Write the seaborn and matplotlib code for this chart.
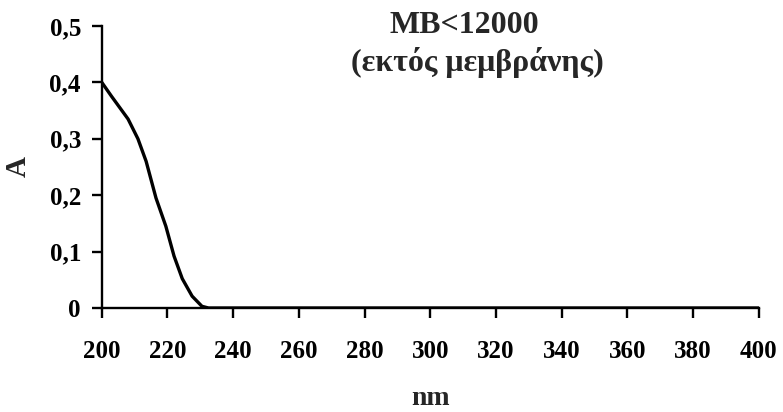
import matplotlib
matplotlib.use("Agg")
import matplotlib.pyplot as plt
from matplotlib.ticker import FuncFormatter
import seaborn as sns
import pandas as pd

# Absorbance spectrum of the fraction MB<12000 (outside the membrane)
wavelength_nm = [200, 203, 205.5, 208, 211, 213.5, 216.5, 219.5, 222, 224.5, 227.5, 230.5, 232.5, 260, 300, 350, 400]
absorbance = [0.40, 0.375, 0.355, 0.335, 0.30, 0.26, 0.195, 0.145, 0.092, 0.052, 0.021, 0.003, 0.0, 0.0, 0.0, 0.0, 0.0]

x_ticks = list(range(200, 401, 20))
y_ticks = [0, 0.1, 0.2, 0.3, 0.4, 0.5]

title_lines = ["MB<12000", "(εκτός μεμβράνης)"]

sns.set_style("ticks")
plt.rcParams["font.family"] = ["Liberation Serif", "DejaVu Serif"]
plt.rcParams["font.weight"] = "bold"

df = pd.DataFrame({"nm": wavelength_nm, "A": absorbance})

fig = plt.figure(figsize=(7.83, 4.12), dpi=100)
ax = fig.add_axes([0.130, 0.2524, 0.839, 0.6846])

sns.lineplot(data=df, x="nm", y="A", ax=ax, color="black", linewidth=2.4,
             estimator=None, sort=False)

ax.set_xlim(200, 400)
ax.set_ylim(0, 0.5)
ax.set_xticks(x_ticks)
ax.set_yticks(y_ticks)


def comma_fmt(v, _pos):
    if abs(v) < 1e-9:
        return "0"
    return f"{v:.1f}".replace(".", ",")


ax.yaxis.set_major_formatter(FuncFormatter(comma_fmt))
ax.xaxis.set_major_formatter(FuncFormatter(lambda v, p: f"{int(round(v))}"))

for side in ("top", "right"):
    ax.spines[side].set_visible(False)
for side in ("left", "bottom"):
    ax.spines[side].set_linewidth(1.7)
    ax.spines[side].set_color("black")

ax.tick_params(axis="x", direction="out", length=7, width=1.7, pad=16,
               labelsize=18, colors="black")
ax.tick_params(axis="y", direction="out", length=7, width=1.7, pad=8,
               labelsize=18, colors="black")
for lbl in ax.get_xticklabels() + ax.get_yticklabels():
    lbl.set_fontweight("bold")

ax.set_xlabel("nm", fontsize=20, fontweight="bold")
ax.set_ylabel("A", fontsize=21, fontweight="bold")
ax.xaxis.set_label_coords(0.5, -0.275)
ax.yaxis.set_label_coords(-0.106, 0.5)

ax.text(0.5525, 1.0, title_lines[0], transform=ax.transAxes, ha="center",
        va="center", fontsize=23, fontweight="bold")
ax.text(0.571, 0.872, title_lines[1], transform=ax.transAxes, ha="center",
        va="center", fontsize=23, fontweight="bold")

fig.savefig("out.png", dpi=100, facecolor="white")
